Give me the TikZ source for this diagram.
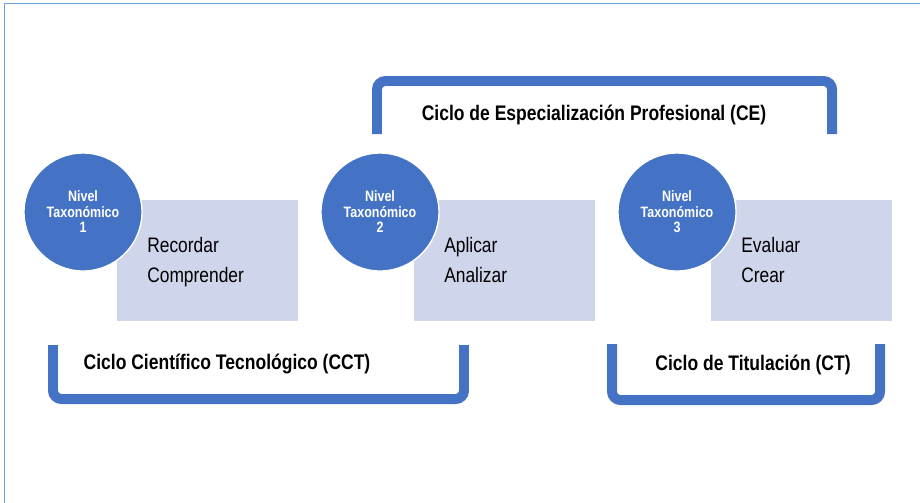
\documentclass[tikz,border=0pt]{standalone}
\usepackage{fontspec}
\setmainfont[FakeStretch=0.83]{Liberation Sans}
\definecolor{azul}{HTML}{4472C4}
\definecolor{lila}{HTML}{CFD5EA}
\definecolor{marco}{HTML}{6FA3D8}
\begin{document}
\begin{tikzpicture}
[x=0.025cm,y=-0.025cm,
  nivel/.style={shape=circle,fill=azul,draw=white,line width=1pt,minimum size=2.95cm,inner sep=0pt,
    text=white,align=center,font=\bfseries\fontsize{10.7}{11}\selectfont},%
  caja/.style={shape=rectangle,fill=lila,minimum width=4.525cm,minimum height=3.025cm,inner sep=0pt},%
  verbos/.style={anchor=base west,align=left,inner sep=0pt,font=\fontsize{14.9}{21}\selectfont},%
  ciclo/.style={anchor=base,inner sep=0pt,font=\bfseries\fontsize{15}{18}\selectfont},%
  corchete/.style={draw=azul,line width=7.1pt,rounded corners=6pt}]
\useasboundingbox (0,0) rectangle (920,502);
%% frame
\draw[marco,line width=1.4pt] (4.5,520) |- (930,3.5);
%% levels, boxes and verbs
\foreach \n/\x/\verbo in {1/83/{Recordar\\Comprender}, 2/380/{Aplicar\\Analizar}, 3/677/{Evaluar\\Crear}} {
  \node (caja\n) at (\x+124.5,260.5) [caja] {};
  \node (verbos\n) at (\x+64,282) [verbos] {\verbo};
  \node (nivel\n) at (\x,212) [nivel] {Nivel\\Taxonómico\\\n};
}
%% cycles
\node (cct) at (227,369) [ciclo] {Ciclo Científico Tecnológico (CCT)};
\node (ct) at (753,370.5) [ciclo] {Ciclo de Titulación (CT)};
\node (ce) at (594,120) [ciclo] {Ciclo de Especialización Profesional (CE)};
\draw[corchete] (53,345) |- (464,399) -- (464,345);
\draw[corchete] (612,344) |- (880,400) -- (880,344);
\draw[corchete] (377,134) |- (832,81) -- (832,134);
\end{tikzpicture}
\end{document}
